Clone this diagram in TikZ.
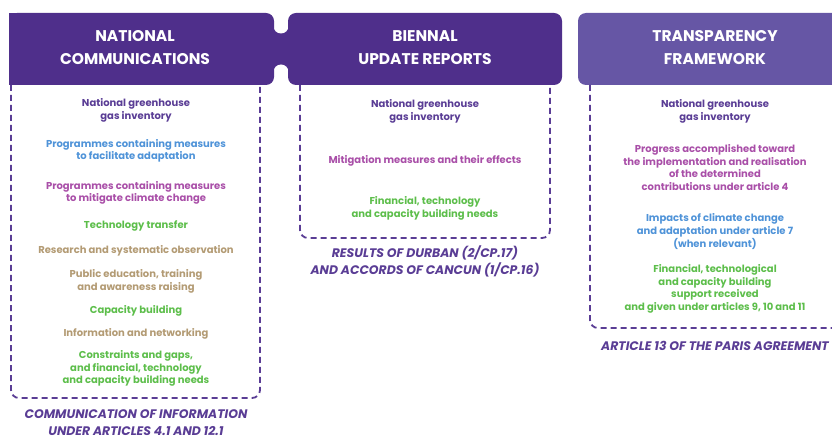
\documentclass[tikz,border=0pt]{standalone}
\usepackage{fontspec}
\setmainfont{Poppins}
\definecolor{hdark}{HTML}{4F2F8B}
\definecolor{hlight}{HTML}{6656A5}
\definecolor{tpurple}{HTML}{5A3D95}
\definecolor{tblue}{HTML}{4F93D8}
\definecolor{tmag}{HTML}{A94FA8}
\definecolor{tgreen}{HTML}{5DBE4B}
\definecolor{ttan}{HTML}{B39B74}
\tikzset{
  hdtext/.style={align=center, text=white, inner sep=0, font=\fontsize{15.5}{23}\selectfont\bfseries},
  item/.style={align=center, inner sep=0, font=\fontsize{10}{12.6}\selectfont\bfseries},
  foot/.style={align=center, inner sep=0, text=tpurple, font=\fontsize{12.4}{16.5}\selectfont\bfseries\itshape},
  dashbox/.style={draw=tpurple, line width=1.8pt, dash pattern=on 6pt off 4pt, rounded corners=8pt},
}
\begin{document}
\begin{tikzpicture}[x=1pt,y=-1pt]
\useasboundingbox (0,0) rectangle (832,438);
\clip (0,0) rectangle (832,438);
% puzzle neck between headers 1 and 2
\fill[hdark] (268,26) rectangle (294,72);
\fill[white] (281,26) circle (7.5);
\fill[white] (281,72) circle (7.5);
% headers
\fill[hdark, rounded corners=8pt] (9,13) rectangle (274,85);
\fill[hdark] (9,13) rectangle (40,85);
\fill[hdark, rounded corners=8pt] (288,13) rectangle (562,85);
\fill[hlight, rounded corners=8pt] (578,13) rectangle (860,85);
\node[hdtext] (h1) at (135,48) {NATIONAL\\COMMUNICATIONS};
\node[hdtext] (h2) at (425,48) {BIENNAL\\UPDATE REPORTS};
\node[hdtext] (h3) at (715,48) {TRANSPARENCY\\FRAMEWORK};
% dashed boxes
\draw[dashbox] (11,85) -- (11,398) -- (260,398) -- (260,85);
\draw[dashbox] (300,85) -- (300,238) -- (550,238) -- (550,85);
\draw[dashbox] (590,85) -- (590,328) -- (860,328);
% column 1
\node[item, text=tpurple] (c1a) at (136,110.5) {National greenhouse\\gas inventory};
\node[item, text=tblue] (c1b) at (136,151) {Programmes containing measures\\to facilitate adaptation};
\node[item, text=tmag] (c1c) at (136,193) {Programmes containing measures\\to mitigate climate change};
\node[item, text=tgreen] (c1d) at (136,226) {Technology transfer};
\node[item, text=ttan] (c1e) at (136,251) {Research and systematic observation};
\node[item, text=ttan] (c1f) at (136,281.5) {Public education, training\\and awareness raising};
\node[item, text=tgreen] (c1g) at (136,311) {Capacity building};
\node[item, text=ttan] (c1h) at (136,334) {Information and networking};
\node[item, text=tgreen] (c1i) at (136,368.5) {Constraints and gaps,\\and financial, technology\\and capacity building needs};
\node[foot] (f1) at (136,422.5) {COMMUNICATION OF INFORMATION\\UNDER ARTICLES 4.1 AND 12.1};
% column 2
\node[item, text=tpurple] (c2a) at (425,111.5) {National greenhouse\\gas inventory};
\node[item, text=tmag] (c2b) at (425,161) {Mitigation measures and their effects};
\node[item, text=tgreen] (c2c) at (425,208.5) {Financial, technology\\and capacity building needs};
\node[foot] (f2) at (425,261.5) {RESULTS OF DURBAN (2/CP.17)\\AND ACCORDS OF CANCUN (1/CP.16)};
% column 3
\node[item, text=tpurple] (c3a) at (715,111.5) {National greenhouse\\gas inventory};
\node[item, text=tmag] (c3b) at (715,167.5) {Progress accomplished toward\\the implementation and realisation\\of the determined\\contributions under article 4};
\node[item, text=tblue] (c3c) at (715,231.5) {Impacts of climate change\\and adaptation under article 7\\(when relevant)};
\node[item, text=tgreen] (c3d) at (715,289) {Financial, technological\\and capacity building\\support received\\and given under articles 9, 10 and 11};
\node[foot] (f3) at (715,346) {ARTICLE 13 OF THE PARIS AGREEMENT};
\end{tikzpicture}
\end{document}
